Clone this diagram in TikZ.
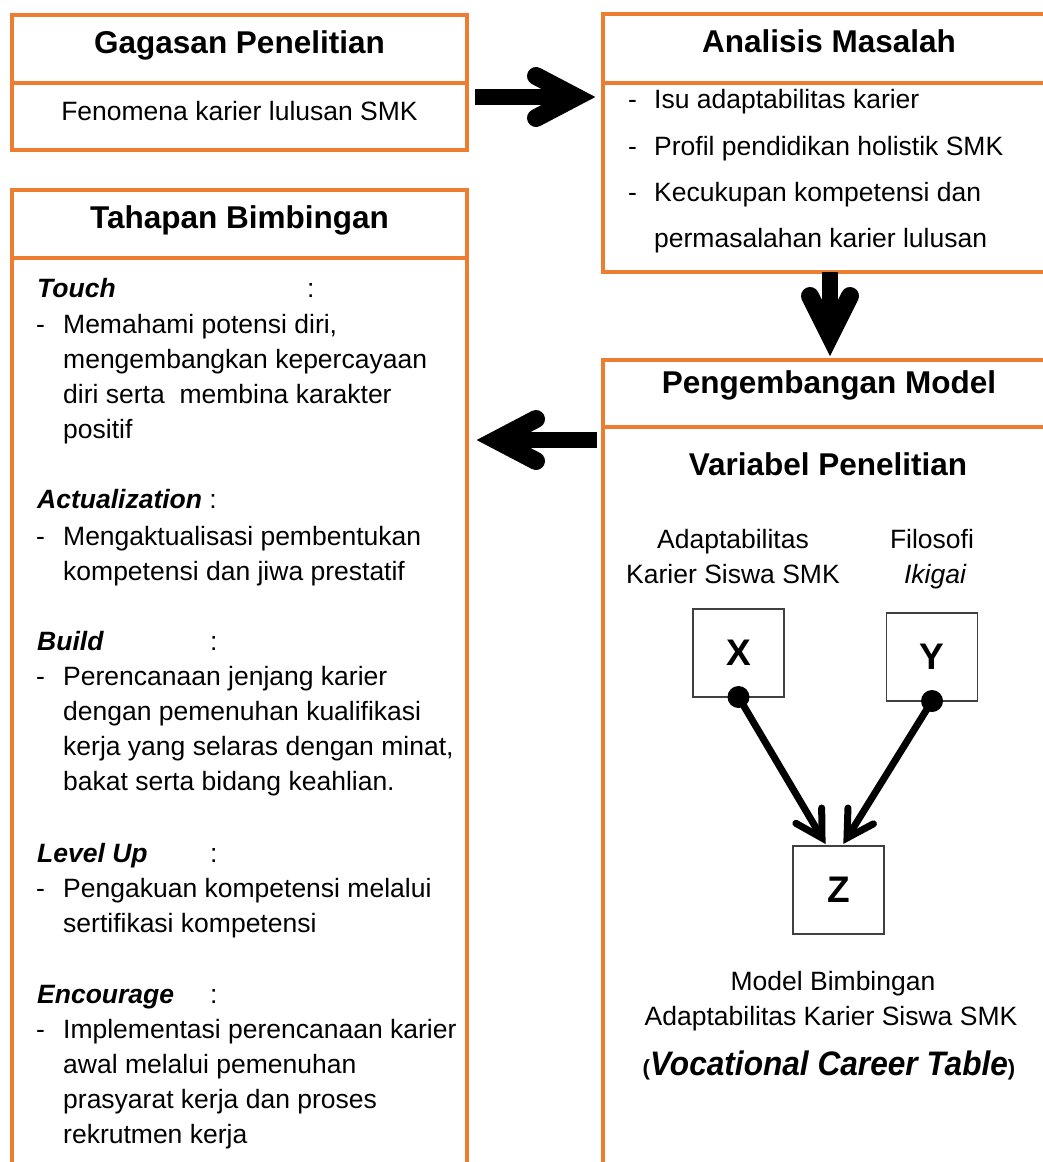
\documentclass[tikz,border=0pt]{standalone}
\usepackage{fontspec}
\usepackage{graphicx}
\setmainfont{Liberation Sans}
\usetikzlibrary{calc}
\definecolor{orng}{RGB}{237,125,49}
\begin{document}
\begin{tikzpicture}[x=1pt,y=-1pt,
  obox/.style={draw=orng, line width=4.5pt, fill=white, outer sep=0pt, inner sep=0pt, anchor=north west},
  body/.style={font=\fontsize{26.5}{32}\selectfont, inner sep=0pt, anchor=base west},
  ctext/.style={font=\fontsize{26.5}{32}\selectfont, inner sep=0pt, anchor=base},
  ttl/.style={font=\fontsize{31.5}{38}\selectfont\bfseries, inner sep=0pt, anchor=base},
  vbox/.style={draw=black!75, line width=1.5pt, fill=white, minimum width=91pt, minimum height=88pt, inner sep=0pt, outer sep=0pt, font=\fontsize{37}{40}\selectfont\bfseries},
  bigshaft/.style={line width=16pt},
  bighead/.style={line width=18pt, line cap=round, line join=miter},
  smshaft/.style={line width=7pt},
  smhead/.style={line width=7pt, line cap=round, line join=miter},
  dot/.style={circle, fill=black, minimum size=22pt, inner sep=0pt}
]
\useasboundingbox (0,0) rectangle (1043,1162);
\clip (0,0) rectangle (1043,1162);

% orange boxes
\node[obox, minimum width=455pt, minimum height=68pt] (gh) at (12,15) {};
\node[obox, minimum width=455pt, minimum height=67pt] (gb) at (12,83) {};
\node[obox, minimum width=455pt, minimum height=68pt] (th) at (12,190) {};
\node[obox, minimum width=455pt, minimum height=1000pt] (tb) at (12,258) {};
\node[obox, minimum width=500pt, minimum height=69pt] (ah) at (603,14) {};
\node[obox, minimum width=500pt, minimum height=189pt] (ab) at (603,83) {};
\node[obox, minimum width=500pt, minimum height=67pt] (ph) at (603,360) {};
\node[obox, minimum width=500pt, minimum height=900pt] (pb) at (603,427) {};

% titles
\node[ttl] (tg) at (239.5,53) {Gagasan Penelitian};
\node[ttl] (tt) at (239.5,228) {Tahapan Bimbingan};
\node[ttl] (ta) at (829,52) {Analisis Masalah};
\node[ttl] (tp) at (829,393) {Pengembangan Model};
\node[ttl] (tv) at (828,475) {Variabel Penelitian};

\node[ctext] (fen) at (239.5,120) {Fenomena karier lulusan SMK};

% Analisis bullets
\node[body] (a1) at (628,108) {\makebox[26pt][l]{-}Isu adaptabilitas karier};
\node[body] (a2) at (628,155) {\makebox[26pt][l]{-}Profil pendidikan holistik SMK};
\node[body] (a3) at (628,201) {\makebox[26pt][l]{-}Kecukupan kompetensi dan};
\node[body] (a4) at (654,247) {permasalahan karier lulusan};

% Tahapan text
\node[body] (l1) at (37,297) {\makebox[270pt][l]{\bfseries\itshape Touch}:};
\node[body] (l2) at (36,333) {\makebox[27pt][l]{-}Memahami potensi diri,};
\node[body] (l3) at (63,368) {mengembangkan kepercayaan};
\node[body] (l4) at (63,403) {diri serta\ \ membina karakter};
\node[body] (l5) at (63,438) {positif};
\node[body] (l6) at (37,508) {{\bfseries\itshape Actualization} :};
\node[body] (l7) at (36,545) {\makebox[27pt][l]{-}Mengaktualisasi pembentukan};
\node[body] (l8) at (63,580) {kompetensi dan jiwa prestatif};
\node[body] (l9) at (37,650) {\makebox[173pt][l]{\bfseries\itshape Build}:};
\node[body] (l10) at (36,685) {\makebox[27pt][l]{-}Perencanaan jenjang karier};
\node[body] (l11) at (63,720) {dengan pemenuhan kualifikasi};
\node[body] (l12) at (63,755) {kerja yang selaras dengan minat,};
\node[body] (l13) at (63,790) {bakat serta bidang keahlian.};
\node[body] (l14) at (37,862) {\makebox[173pt][l]{\bfseries\itshape Level Up}:};
\node[body] (l15) at (36,897) {\makebox[27pt][l]{-}Pengakuan kompetensi melalui};
\node[body] (l16) at (63,932) {sertifikasi kompetensi};
\node[body] (l17) at (37,1003) {\makebox[173pt][l]{\bfseries\itshape Encourage}:};
\node[body] (l18) at (36,1038) {\makebox[27pt][l]{-}Implementasi perencanaan karier};
\node[body] (l19) at (63,1073) {awal melalui pemenuhan};
\node[body] (l20) at (63,1108) {prasyarat kerja dan proses};
\node[body] (l21) at (63,1143) {rekrutmen kerja};

% variable labels
\node[ctext] (v1) at (733,548) {Adaptabilitas};
\node[ctext] (v2) at (733,583) {Karier Siswa SMK};
\node[ctext] (v3) at (932,548) {Filosofi};
\node[ctext] (v4) at (935,583) {\itshape Ikigai};

% X Y Z
\node[vbox] (vx) at (738.5,653) {X};
\node[vbox] (vy) at (932,657) {Y};
\node[vbox] (vz) at (838.5,890) {Z};
\node[dot] (xd) at (vx.south) {};
\node[dot] (yd) at (vy.south) {};

\coordinate (tx) at ([xshift=-16.5pt,yshift=8pt]vz.north);
\coordinate (ty) at ([xshift=8.5pt,yshift=8pt]vz.north);
\draw[smshaft] (xd.center) -- (tx);
\draw[smhead] ($(tx)!30pt!30:(xd.center)$) -- (tx) -- ($(tx)!30pt!-30:(xd.center)$);
\draw[smshaft] (yd.center) -- (ty);
\draw[smhead] ($(ty)!30pt!30:(yd.center)$) -- (ty) -- ($(ty)!30pt!-30:(yd.center)$);

\node[ctext] (m1) at (833,990) {Model Bimbingan};
\node[ctext] (m2) at (831,1025) {Adaptabilitas Karier Siswa SMK};
\node[ctext] (m3) at (829,1075) {{\fontsize{22}{24}\selectfont\bfseries (}\scalebox{0.93}[1]{\fontsize{34}{38}\selectfont\bfseries\itshape Vocational Career Table}{\fontsize{22}{24}\selectfont\bfseries )}};

% big arrows
\coordinate (ra) at ($(gb.north east)+(8,14)$);
\coordinate (rg) at ($(ab.north west)+(-27,14)$);
\draw[bigshaft] (ra) -- ($(rg)+(-6,0)$);
\draw[bighead] ($(rg)+(-40,-21)$) -- (rg) -- ($(rg)+(-40,21)$);

\coordinate (da) at ($(ab.south west)+(227,0)$);
\coordinate (dg) at ($(ph.north west)+(227,-24)$);
\draw[bigshaft] (da) -- ($(dg)+(0,-6)$);
\draw[bighead] ($(dg)+(-20,-40)$) -- (dg) -- ($(dg)+(20,-40)$);

\coordinate (la) at ($(pb.north west)+(-6,13)$);
\coordinate (lg) at ($(tb.north east)+(29,182)$);
\draw[bigshaft] (la) -- ($(lg)+(6,0)$);
\draw[bighead] ($(lg)+(40,-21)$) -- (lg) -- ($(lg)+(40,21)$);
\end{tikzpicture}
\end{document}
